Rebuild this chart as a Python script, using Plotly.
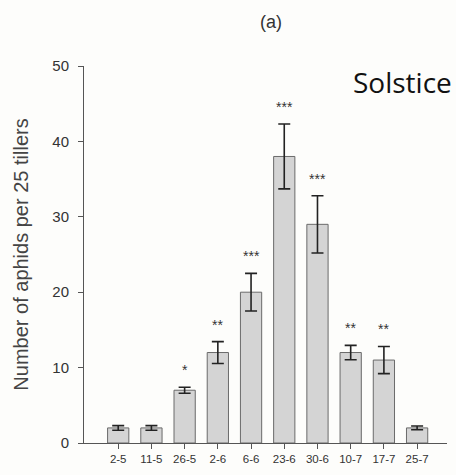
import plotly.graph_objects as go

# Sampling dates and mean aphid counts (± SE) per 25 tillers
dates = ["2-5", "11-5", "26-5", "2-6", "6-6", "23-6", "30-6", "10-7", "17-7", "25-7"]
means = [2, 2, 7, 12, 20, 38, 29, 12, 11, 2]
errors = [0.3, 0.3, 0.4, 1.45, 2.5, 4.3, 3.8, 0.95, 1.8, 0.25]
signif = ["", "", "*", "**", "***", "***", "***", "**", "**", ""]

fig = go.Figure()
fig.add_trace(go.Bar(
    x=list(range(len(dates))), y=means,
    width=0.64,
    marker=dict(color="#d4d4d4", line=dict(color="#6a6a6a", width=1)),
    error_y=dict(type="data", array=errors, visible=True,
                 color="#222222", thickness=1.6, width=6),
    showlegend=False,
))

# Significance stars above each error bar
for i, (m, e, s) in enumerate(zip(means, errors, signif)):
    if s:
        fig.add_annotation(x=i, y=m + e, text=s, showarrow=False,
                           yanchor="bottom", yshift=7,
                           font=dict(family="Liberation Sans, Arial", size=14, color="#333333"))

fig.add_annotation(text="(a)", xref="paper", yref="paper", x=0.515, y=1.0,
                   xanchor="center", yanchor="middle", yshift=44, showarrow=False,
                   font=dict(family="Liberation Sans, Arial", size=18, color="#333333"))
fig.add_annotation(text="Solstice", xref="paper", yref="paper", x=1.02, y=0.957,
                   xanchor="right", yanchor="middle", showarrow=False,
                   font=dict(family="Open Sans", size=28, color="#111111"))

fig.update_layout(
    width=456, height=475,
    margin=dict(l=84, r=9, t=66, b=32),
    paper_bgcolor="#fdfdfb", plot_bgcolor="#fdfdfb",
    bargap=0.36,
    font=dict(family="Liberation Sans, Arial", color="#333333"),
)
fig.update_xaxes(
    range=[-1.03, 9.9],
    tickmode="array", tickvals=list(range(len(dates))), ticktext=dates,
    showline=True, linecolor="#555555", linewidth=1,
    ticks="outside", ticklen=5, tickcolor="#555555",
    tickfont=dict(size=11.5, color="#333333"),
    showgrid=False, zeroline=False,
)
fig.update_yaxes(
    range=[0, 50], tickvals=[0, 10, 20, 30, 40, 50],
    showline=True, linecolor="#555555", linewidth=1,
    ticks="outside", ticklen=5, tickcolor="#555555",
    ticklabelstandoff=6,
    tickfont=dict(size=15, color="#333333"),
    showgrid=False, zeroline=False,
    title=dict(text="Number of aphids per 25 tillers", standoff=18,
               font=dict(size=20, color="#444444")),
)

fig.write_html("out.html")
